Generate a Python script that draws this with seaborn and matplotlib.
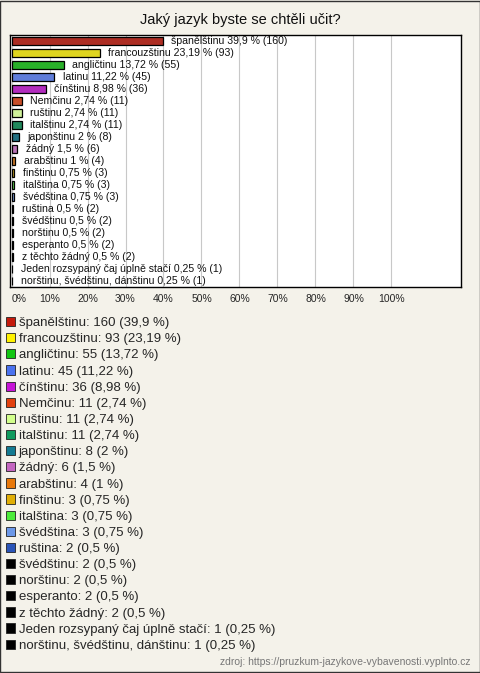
import numpy as np
import pandas as pd
import seaborn as sns
import matplotlib.pyplot as plt
from matplotlib.patches import Patch

# --- datos ---
jazyky = ['španělštinu', 'francouzštinu', 'angličtinu', 'latinu', 'čínštinu',
          'Nemčinu', 'ruštinu', 'italštinu', 'japonštinu', 'žádný', 'arabštinu',
          'finštinu', 'italština', 'švédština', 'ruština', 'švédštinu', 'norštinu',
          'esperanto', 'z těchto žádný', 'Jeden rozsypaný čaj úplně stačí',
          'norštinu, švédštinu, dánštinu']
pocty = [160, 93, 55, 45, 36, 11, 11, 11, 8, 6, 4, 3, 3, 3, 2, 2, 2, 2, 2, 1, 1]
procenta = [39.9, 23.19, 13.72, 11.22, 8.98, 2.74, 2.74, 2.74, 2, 1.5, 1,
            0.75, 0.75, 0.75, 0.5, 0.5, 0.5, 0.5, 0.5, 0.25, 0.25]
barvy = ['#c41a0c', '#fff200', '#12c612', '#4a72ef', '#c614d6', '#e2400e',
         '#d2ff8c', '#109a5e', '#137a92', '#c466c0', '#e8780a', '#e0ae06',
         '#4cec3a', '#6c98e8', '#2a54b8', '#000000', '#000000', '#000000',
         '#000000', '#000000', '#000000']

def fmt(p):
    return f'{p:g}'.replace('.', ',')

df = pd.DataFrame({'jazyk': jazyky, 'pocet': pocty, 'procento': procenta})

bg = '#f4f2ea'
sns.set_style('white')
plt.rcParams['font.family'] = ['Liberation Sans', 'DejaVu Sans']

fig = plt.figure(figsize=(4.8, 6.73), dpi=100, facecolor=bg)
ax = fig.add_axes([10 / 480, 1 - 287 / 673, 451 / 480, 252 / 673])
ax.set_facecolor('white')

sns.barplot(data=df, x='procento', y='jazyk', hue='jazyk', palette=barvy,
            legend=False, orient='h', width=0.6, edgecolor='black',
            linewidth=0.9, ax=ax, zorder=3)

# popisky u sloupcu
for i, (j, p, n) in enumerate(zip(jazyky, procenta, pocty)):
    ax.text(p + 2.2, i, f'{j} {fmt(p)} % ({n})', va='center', ha='left',
            fontsize=7.6, color='#111111', zorder=4)

ax.set_xlim(-0.4, 118.3)
ax.set_ylim(len(jazyky) - 0.5, -0.5)
ax.set_xticks(np.arange(0, 101, 10))
ax.set_xticklabels([f'{t}%' for t in range(0, 101, 10)], fontsize=7.5)
ax.get_xticklabels()[0].set_ha('left')
ax.tick_params(axis='x', length=0, pad=5)
ax.set_yticks([])
ax.set_xlabel('')
ax.set_ylabel('')
ax.grid(axis='x', color='#c8c8c8', linewidth=0.8, zorder=0)
for s in ax.spines.values():
    s.set_color('black')
    s.set_linewidth(1)

fig.text(0.5, 1 - 20 / 673, 'Jaký jazyk byste se chtěli učit?', ha='center',
         va='center', fontsize=10.5, color='#111111')

handles = [Patch(facecolor=c, edgecolor='#222222', linewidth=0.6) for c in barvy]
labels = [f'{j}: {n} ({fmt(p)} %)' for j, n, p in zip(jazyky, pocty, procenta)]
fig.legend(handles, labels, loc='upper left', bbox_to_anchor=(6 / 480, 1 - 317 / 673),
           frameon=False, fontsize=9.5, handlelength=0.7, handleheight=0.7,
           handletextpad=0.25, labelspacing=0.295, borderpad=0, borderaxespad=0)

fig.text(470 / 480, 1 - 662 / 673,
         'zdroj: https://pruzkum-jazykove-vybavenosti.vyplnto.cz',
         ha='right', va='center', fontsize=7.5, color='#777777')

# okraj obrazku
fig.patches.append(plt.Rectangle((0.001, 0.001), 0.998, 0.998, transform=fig.transFigure,
                                 fill=False, edgecolor='#333333', linewidth=1))

plt.savefig('out.png', dpi=100, facecolor=bg)
